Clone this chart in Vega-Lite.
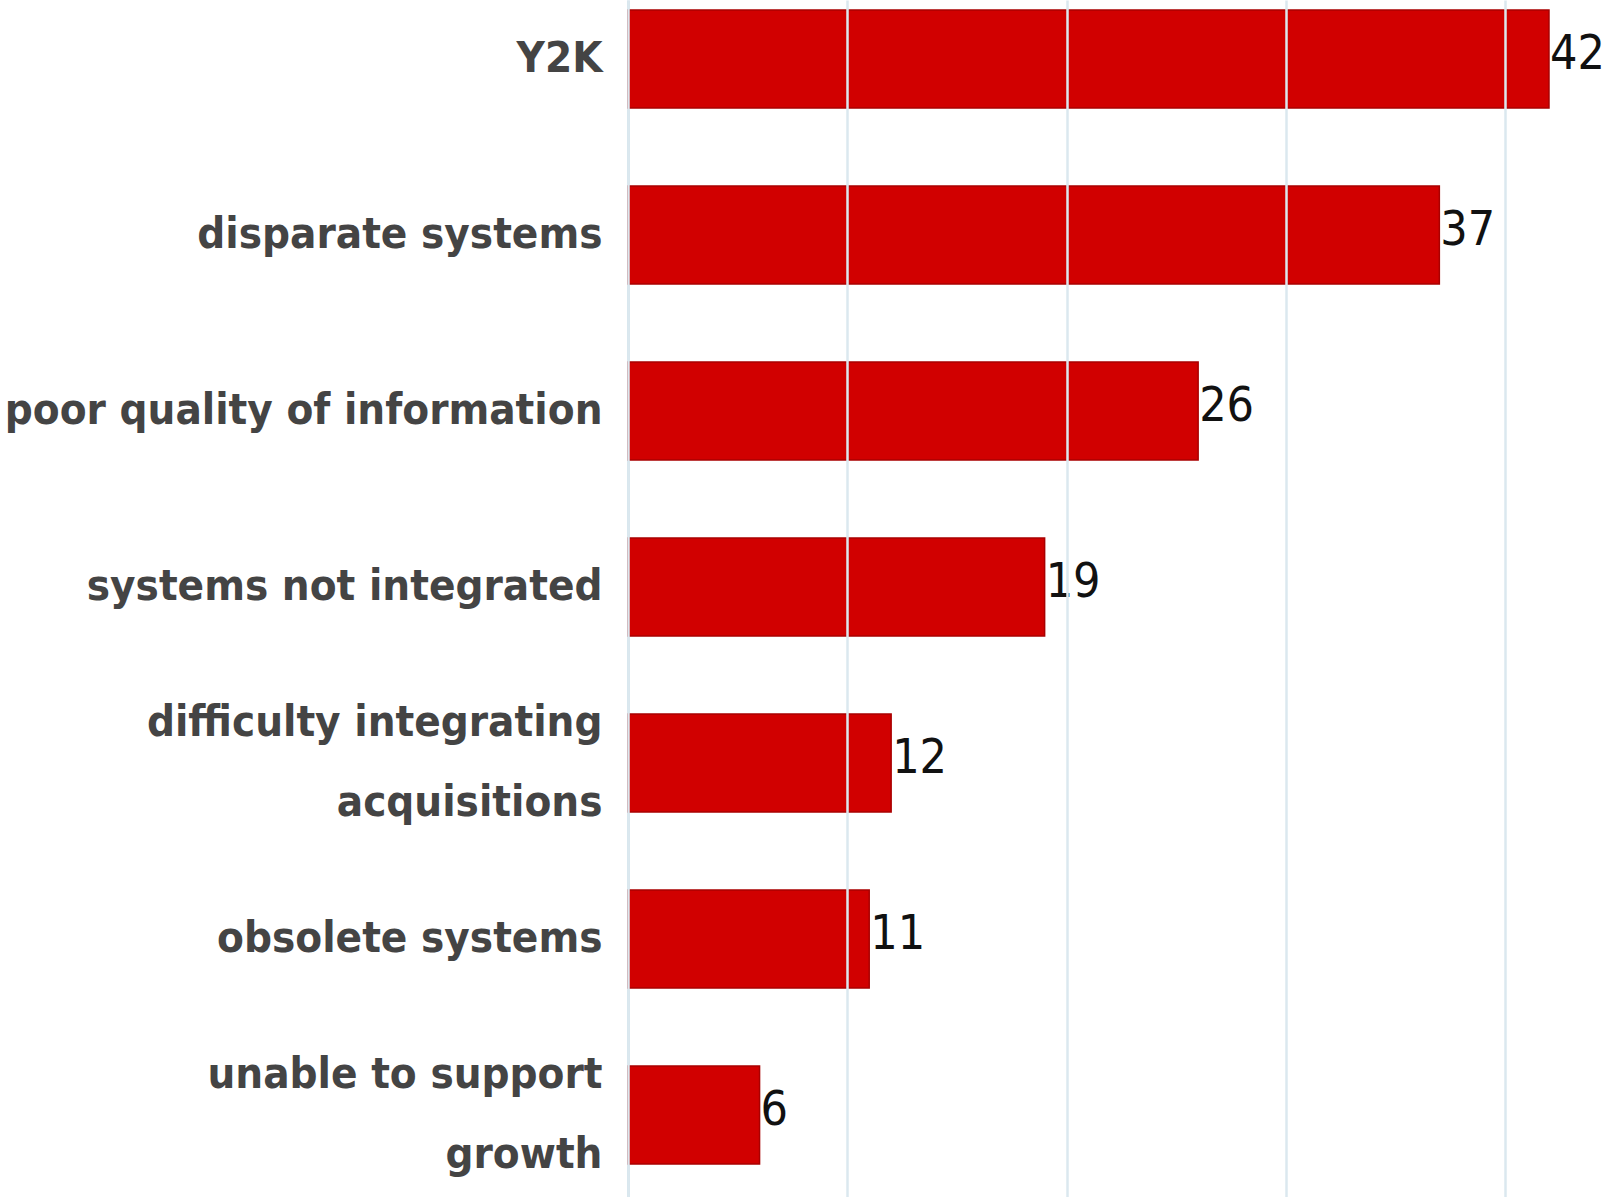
{
  "$schema": "https://vega.github.io/schema/vega-lite/v6.json",
  "width": 978,
  "height": 1197,
  "autosize": {"type": "none"},
  "padding": {"left": 628, "top": 0, "right": 0, "bottom": 0},
  "background": "white",
  "config": {"view": {"stroke": null}},
  "data": {
    "values": [
      {"issue": "Y2K", "count": 42},
      {"issue": "disparate systems", "count": 37},
      {"issue": "poor quality of information", "count": 26},
      {"issue": "systems not integrated", "count": 19},
      {"issue": "difficulty integrating acquisitions", "count": 12},
      {"issue": "obsolete systems", "count": 11},
      {"issue": "unable to support growth", "count": 6}
    ]
  },
  "encoding": {
    "y": {
      "field": "issue",
      "type": "nominal",
      "sort": "-x",
      "scale": {"paddingInner": 0.443, "paddingOuter": 0.122, "align": 0.233},
      "axis": {
        "title": null,
        "ticks": false,
        "domain": true,
        "domainColor": "#d3e3ec",
        "domainWidth": 3,
        "labelFont": "DejaVu Sans Condensed, Liberation Sans, sans-serif",
        "labelFontWeight": "bold",
        "labelFontSize": 43.5,
        "labelColor": "#444444",
        "labelPadding": 26,
        "labelLimit": 700,
        "labelLineHeight": 80,
        "labelOffset": {"condition": {"test": "indexof(datum.label, 'difficulty') >= 0 || indexof(datum.label, 'unable') >= 0", "value": -40}, "value": 0},
        "labelExpr": "datum.label == 'difficulty integrating acquisitions' ? ['difficulty integrating', 'acquisitions'] : datum.label == 'unable to support growth' ? ['unable to support', 'growth'] : datum.label"
      }
    },
    "x": {
      "field": "count",
      "type": "quantitative",
      "scale": {"domain": [0, 44.6], "nice": false, "zero": true},
      "axis": {
        "title": null,
        "labels": false,
        "ticks": false,
        "domain": false,
        "values": [0, 10, 20, 30, 40],
        "grid": true,
        "gridColor": "#dbe8ef",
        "gridWidth": 2.5,
        "zindex": 1
      }
    }
  },
  "layer": [
    {
      "mark": {"type": "bar", "color": "#d10000", "stroke": "#a90000", "strokeWidth": 1.5}
    },
    {
      "mark": {
        "type": "text",
        "align": "left",
        "baseline": "middle",
        "dx": 1,
        "dy": -4,
        "font": "DejaVu Sans Condensed, Liberation Sans, sans-serif",
        "fontSize": 48,
        "color": "#111111"
      },
      "encoding": {"text": {"field": "count", "type": "quantitative"}}
    }
  ]
}
